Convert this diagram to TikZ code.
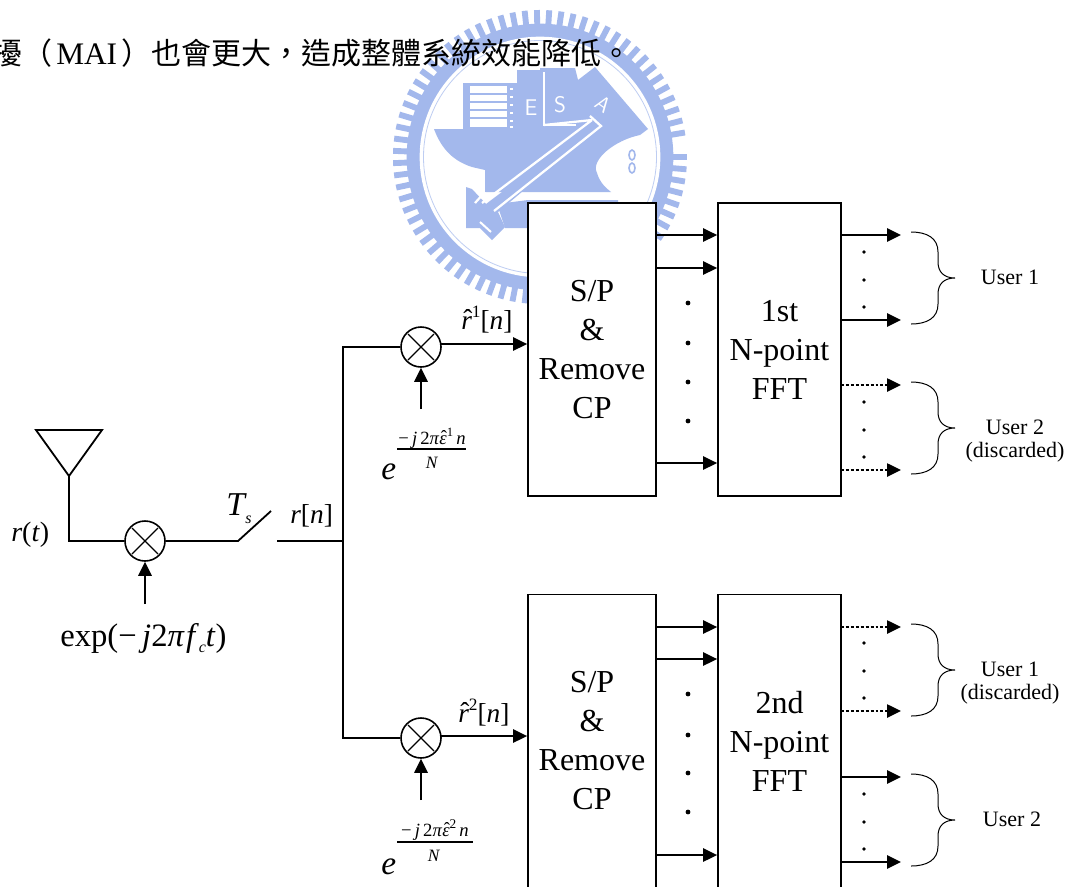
\documentclass[tikz,border=0pt]{standalone}
\usepackage{fontspec}
\setmainfont{Liberation Serif}
\newfontfamily\cjk{Noto Sans CJK TC}
\usetikzlibrary{arrows.meta,calc}
\definecolor{wm}{RGB}{163,184,236}
\newcommand{\fs}[1]{\fontsize{#1}{#1}\selectfont}
\newcommand{\hatit}[1]{{\setbox0\hbox{\itshape #1}\rlap{\hbox to\wd0{\hss\kern0.1em\raisebox{0.02em}{\char"02C6}\hss}}\box0}}
\newcommand{\ibrace}[3]{% x0, ytop, ybottom ; tip at the middle
  \pgfmathsetmacro{\ym}{(#2+#3)/2}
  \draw[bracel] (#1,#2) .. controls (#1+16,#2) and (#1+27,#2+6) .. (#1+27,#2+20)
    -- (#1+27,\ym-16) .. controls (#1+27,\ym-6) and (#1+33,\ym) .. (#1+44,\ym)
    .. controls (#1+33,\ym) and (#1+27,\ym+6) .. (#1+27,\ym+16)
    -- (#1+27,#3-20) .. controls (#1+27,#3-6) and (#1+16,#3) .. (#1,#3);}
\tikzset{
  wire/.style={line width=1.35pt,black},
  arr/.style={wire,-{Triangle[length=10.5pt,width=10pt]}},
  darr/.style={line width=1.1pt,black,dash pattern=on 2.2pt off 1.5pt,-{Triangle[length=10.5pt,width=10pt]}},
  blockbox/.style={draw=black,line width=1.35pt,fill=white,inner sep=0pt,align=center,
    font=\fs{24}, execute at begin node={\baselineskip=29.25pt}},
  mixer/.style={circle,draw=black,line width=1.2pt,fill=white,minimum size=30pt,inner sep=0pt,
    path picture={
      \draw[line width=1pt] ([shift={(-13,-13)}]path picture bounding box.center) -- ([shift={(13,13)}]path picture bounding box.center);
      \draw[line width=1pt] ([shift={(-13,13)}]path picture bounding box.center) -- ([shift={(13,-13)}]path picture bounding box.center);}},
  bracel/.style={line width=0.75pt,black},
  lab/.style={inner sep=0pt,anchor=base west},
  labc/.style={inner sep=0pt,anchor=base,align=center},
  tinydot/.style={circle,fill=black,inner sep=0pt,minimum size=2.7pt},
  middot/.style={circle,fill=black,inner sep=0pt,minimum size=3.6pt},
  wmcut/.style={draw=white,line width=1.7pt,line cap=butt},
}
\begin{document}
\begin{tikzpicture}[x=0.75pt,y=-0.75pt]
\useasboundingbox (0,0) rectangle (1070,886);
\clip (0,0) rectangle (1070,886);
\fill[white] (0,0) rectangle (1070,886);

% ---------- watermark ----------
\begin{scope}[shift={(540,157)}]
  \foreach \a in {0,4.8,...,355} \draw[wm,line width=4.4pt] (\a:130) -- (\a:147);
  \draw[wm,line width=11pt] (0,0) circle (126);
  \draw[white,line width=2pt] (0,0) circle (119);
  \draw[wm!70,line width=0.6pt] (0,0) circle (116.5);
\end{scope}
% hull
\fill[wm] (434,129) -- (463,129) -- (463,83) -- (470,83) -- (507,83) -- (517,83) -- (517,70) -- (540,70) -- (540,68) -- (575,68)
  -- (578,80) -- (595,67) -- (648,129)
  -- (640,135) .. controls (615,140) and (590,160) .. (597,173) .. controls (600,183) and (606,188) .. (611,192)
  -- (485,192) -- (485,170) -- (472,167) .. controls (450,160) and (440,145) .. (434,129) -- cycle;
% lower block and hammer head
\fill[wm] (497,204) -- (528,200) -- (618,200) -- (618,228) -- (505,228) -- cycle;
\fill[wm] (466,187) -- (472,189) -- (486,204) -- (600,118) -- (598,128) -- (498,212) -- (505,227) -- (492,240) -- (480,228) -- (466,228) -- cycle;
% striped building
\fill[white] (470,86) rectangle (507,127);
\foreach \y in {93,101,109,117} \fill[wm] (470,\y) rectangle (507,\y+1.6);
\foreach \y in {88,96,104,112,120,126} \fill[white] (510,\y) rectangle (513,\y+2);
% letters on the ship (white)
\node[inner sep=0pt,text=white,font=\sffamily\fs{17}] (wmE) at (531,108) {E};
\draw[white,line width=1.2pt] (544,72) -- (544,125) -- (576,125);
\node[inner sep=0pt,text=white,font=\sffamily\fs{17}] (wmS) at (560,105) {S};
\node[inner sep=0pt,text=white,font=\sffamily\fs{16},rotate=-35] (wmA) at (603,104) {A};
% chevron / diagonal strokes
\draw[wmcut] (482,203) -- (592,120) (544,125) -- (592,120);
\draw[wmcut] (494,211) -- (601,126) -- (590,116);
\draw[wmcut] (485,192) -- (475,203);
\draw[white,line width=1.5pt] (480,222) -- (491,232);
% anchor detail
\draw[wm,line width=1.2pt] (632,155) ellipse (3 and 5);
\draw[wm,line width=1.2pt] (632,168) ellipse (3 and 5);

% ---------- sentence above ----------
\node[lab] (sent) at (-8,64) {\fs{22.5}\cjk 擾（\kern3pt{\rmfamily\fs{23.5}MAI}\kern3pt）也會更大，造成整體系統效能降低。};

% ---------- blocks ----------
\node[blockbox,minimum width=96pt,minimum height=219.75pt] (sp1) at (592,349.5) {S/P\\\&\\Remove\\CP};
\node[blockbox,minimum width=92.25pt,minimum height=219.75pt] (fft1) at (779.5,349.5) {1st\\N-point\\FFT};
\node[blockbox,minimum width=96pt,minimum height=219.75pt] (sp2) at (592,741) {S/P\\\&\\Remove\\CP};
\node[blockbox,minimum width=92.25pt,minimum height=219.75pt] (fft2) at (779.5,741) {2nd\\N-point\\FFT};

% ---------- parallel arrows ----------
\foreach \y in {235,268,463} \draw[arr] (sp1.east |- 0,\y) -- (fft1.west |- 0,\y);
\foreach \y in {627,659,855} \draw[arr] (sp2.east |- 0,\y) -- (fft2.west |- 0,\y);
\foreach \y in {303,343,382,421,694,735,773,812} \node[middot] at (688,\y) {};

% ---------- outputs ----------
\coordinate (o) at (901,0);
\foreach \y in {235,320,777,862} \draw[arr] (841,\y) -- (o |- 0,\y);
\foreach \y in {385,470,627,711} \draw[darr] (841,\y) -- (o |- 0,\y);
\foreach \y in {252,280,307,402,430,457,643,671,698,794,822,849} \node[tinydot] at (864,\y) {};
\ibrace{911}{232}{324}
\ibrace{911}{382}{474}
\ibrace{911}{624}{716}
\ibrace{911}{774}{866}
\node[labc,font=\fs{16.5}] (u1) at (1010,284) {User 1};
\node[labc,font=\fs{16.5}] (u2) at (1015,434) {User 2};
\node[labc,font=\fs{16.5}] (d2) at (1015,457) {(discarded)};
\node[labc,font=\fs{16.5}] (u3) at (1010,676) {User 1};
\node[labc,font=\fs{16.5}] (d3) at (1010,699) {(discarded)};
\node[labc,font=\fs{16.5}] (u4) at (1012,826) {User 2};

% ---------- receiver front end ----------
\coordinate (ant1) at (36,430); \coordinate (ant2) at (102,430); \coordinate (ant3) at (69,476);
\draw[wire,line join=miter] (ant1) -- (ant2) -- (ant3) -- cycle;
\node[mixer] (m0) at (145,541) {};
\coordinate (sw0) at (238,541); \coordinate (sw1) at (271,511);
\coordinate (sw2) at (277,541); \coordinate (tr) at (343,541);
\draw[wire] (ant3) |- (m0);
\draw[wire] (m0) -- (sw0) -- (sw1);
\draw[wire] (sw2) -- (tr);
\coordinate (m0in) at (145,604);
\draw[arr] (m0in) -- (m0);

\node[mixer] (m1) at (421,347) {};
\node[mixer] (m2) at (421,738) {};
\draw[wire] (m1) -| (tr) |- (m2);
\coordinate (m1out) at (441,344); \coordinate (m2out) at (441,736);
\draw[arr] (m1out) -- (sp1.west |- m1out);
\draw[arr] (m2out) -- (sp2.west |- m2out);
\coordinate (m1in) at (421,409); \coordinate (m2in) at (421,800);
\draw[arr] (m1in) -- (m1);
\draw[arr] (m2in) -- (m2);

% ---------- labels ----------
\node[lab,font=\fs{21}] (lrt) at (11,541) {\textit{r}(\textit{t})};
\node[lab,font=\fs{25}] (lT) at (226,515) {\textit{T}\kern-1pt\raisebox{-0.25em}{\fs{12}\textit{s}}};
\node[lab,font=\fs{20.5}] (lrn) at (290,523) {\textit{r}[\textit{n}]};
\node[lab,font=\fs{20.5}] (lr1) at (461,329) {\hatit{r}\raisebox{0.42em}{\fs{13}1}[\textit{n}]};
\node[lab,font=\fs{20.5}] (lr2) at (458,722) {\hatit{r}\raisebox{0.42em}{\fs{13}2}[\textit{n}]};
\node[lab,font=\fs{24.5}] (lexp) at (60,646) {exp(−\,\textit{j}2\textit{π}\kern1pt\textit{f}\raisebox{-0.2em}{\fs{12}\textit{c}}\textit{t})};

\node[lab,font=\fs{25}] (e1) at (381,479) {\textit{e}};
\node[labc,font=\fs{14}] (n1) at (432,444) {−\,\textit{j}\,2\textit{π}\hatit{ε}\raisebox{0.42em}{\fs{9.5}1}\,\textit{n}};
\node[labc,font=\fs{13}] (d1) at (432,468) {\textit{N}};
\coordinate (b1a) at (397,449); \coordinate (b1b) at (466,449);
\draw[line width=0.8pt] (b1a) -- (b1b);
\node[lab,font=\fs{25}] (e2) at (381,874) {\textit{e}};
\node[labc,font=\fs{14}] (n2) at (435,836) {−\,\textit{j}\,2\textit{π}\hatit{ε}\raisebox{0.42em}{\fs{10}2}\,\textit{n}};
\node[labc,font=\fs{13}] (d2x) at (434,861) {\textit{N}};
\coordinate (b2a) at (397,842); \coordinate (b2b) at (473,842);
\draw[line width=0.8pt] (b2a) -- (b2b);
\end{tikzpicture}
\end{document}
